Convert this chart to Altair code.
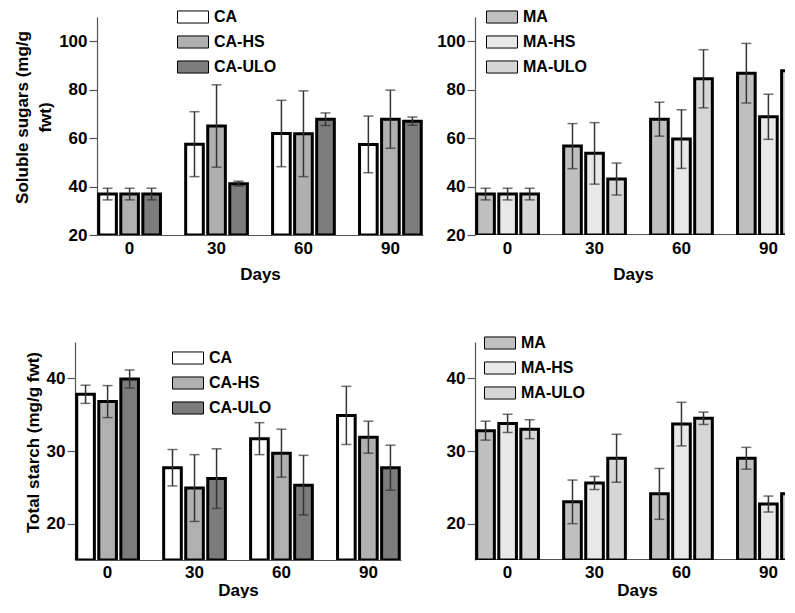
import altair as alt
import pandas as pd

days = ["0", "30", "60", "90"]
ca_groups = ["CA", "CA-HS", "CA-ULO"]
ma_groups = ["MA", "MA-HS", "MA-ULO"]
ca_colors = ["#ffffff", "#b0b0b0", "#7c7c7c"]
ma_colors = ["#c0c0c0", "#e8e8e8", "#d6d6d6"]

# Soluble sugars (mg/g fwt): means and errors, per group, days 0/30/60/90
sugar_ca_mean = {"CA": [36.9, 57.5, 61.9, 57.4], "CA-HS": [36.9, 65.0, 61.8, 67.8], "CA-ULO": [36.9, 41.2, 67.8, 67.0]}
sugar_ca_err = {"CA": [2.4, 13.4, 13.7, 11.7], "CA-HS": [2.4, 17.0, 17.7, 12.0], "CA-ULO": [2.4, 1.0, 2.6, 1.7]}
sugar_ma_mean = {"MA": [36.9, 56.7, 67.8, 86.8], "MA-HS": [36.9, 53.7, 59.6, 68.8], "MA-ULO": [36.9, 43.1, 84.5, 87.8]}
sugar_ma_err = {"MA": [2.4, 9.3, 7.0, 12.3], "MA-HS": [2.4, 12.7, 12.1, 9.3], "MA-ULO": [2.4, 6.6, 12.0, 12.5]}

# Total starch (mg/g fwt)
starch_ca_mean = {"CA": [37.8, 27.7, 31.7, 34.9], "CA-HS": [36.8, 24.9, 29.7, 31.9], "CA-ULO": [39.9, 26.2, 25.3, 27.7]}
starch_ca_err = {"CA": [1.25, 2.5, 2.2, 4.0], "CA-HS": [2.2, 4.6, 3.3, 2.2], "CA-ULO": [1.25, 4.1, 4.1, 3.1]}
starch_ma_mean = {"MA": [32.8, 23.0, 24.1, 29.0], "MA-HS": [33.8, 25.6, 33.7, 22.7], "MA-ULO": [33.0, 29.0, 34.5, 24.1]}
starch_ma_err = {"MA": [1.3, 3.0, 3.5, 1.5], "MA-HS": [1.25, 0.9, 3.0, 1.1], "MA-ULO": [1.3, 3.3, 0.85, 3.3]}

FONT = "Liberation Sans"
ERR = "#333333"
AXC = "#555555"
RECT = "M-1,-0.39H1V0.39H-1Z"
BAND = 326
RIGHT_W = 313


def make_df(groups, means, errs):
    rows = []
    for g in groups:
        for d, m, e in zip(days, means[g], errs[g]):
            rows.append({"day": d, "group": g, "mean": m, "lo": m - e, "hi": m + e})
    return pd.DataFrame(rows)


def panel(df, groups, colors, ydomain, yvals, ytitle, lx, ly, width, height,
          shift=0, xdomain=True, tline=None, ty=None, xlabpad=5, xtitlepad=10, daysx=None):
    xaxis_kw = dict(title="Days", labelAngle=0, ticks=False, domain=xdomain,
                    domainColor=AXC, domainWidth=1.2, labelPadding=xlabpad, titlePadding=xtitlepad)
    if daysx is not None:
        xaxis_kw["titleX"] = daysx
    xenc = alt.X("day:N", sort=days,
                 scale=alt.Scale(paddingInner=0.29, paddingOuter=0.02, range=[shift, shift + BAND]),
                 axis=alt.Axis(**xaxis_kw))
    xo = alt.XOffset("group:N", sort=groups, scale=alt.Scale(paddingInner=0.2, paddingOuter=0))
    yaxis_kw = dict(values=yvals, grid=False, domain=True, ticks=True, tickSize=8,
                    domainColor=AXC, tickColor=AXC, domainWidth=1.2, tickWidth=1.2,
                    labelPadding=2, titlePadding=4)
    if shift:
        yaxis_kw["offset"] = -shift
    if ytitle is None:
        yaxis_kw["title"] = None
    else:
        yaxis_kw["title"] = ytitle
        if tline is not None:
            yaxis_kw["titleLineHeight"] = tline
        if ty is not None:
            yaxis_kw["titleY"] = ty
    yax = alt.Axis(**yaxis_kw)
    ysc = alt.Scale(domain=ydomain, nice=False, zero=False)
    layers = []
    if not xdomain:
        layers.append(alt.Chart(df).mark_rule(color=AXC, strokeWidth=1.2, clip=True).encode(
            y=alt.Y(datum=ydomain[0], scale=ysc, axis=yax)))
    bars = alt.Chart(df).mark_bar(stroke="black", strokeWidth=3, clip=True).encode(
        x=xenc, xOffset=xo,
        y=alt.Y("mean:Q", scale=ysc, axis=yax),
        y2=alt.datum(ydomain[0]),
        fill=alt.Fill("group:N", sort=groups, scale=alt.Scale(domain=groups, range=colors),
                      legend=alt.Legend(title=None, orient="none", legendX=lx, legendY=ly,
                                        symbolType=RECT, symbolSize=961,
                                        symbolStrokeColor="black", symbolStrokeWidth=1,
                                        labelFont=FONT, labelFontSize=16, labelFontWeight="bold",
                                        labelColor="black", labelOffset=5, rowPadding=0,
                                        padding=0, symbolOpacity=1)),
    )
    rules = alt.Chart(df).mark_rule(color=ERR, strokeWidth=1.5, clip=True).encode(
        x=xenc, xOffset=xo, y=alt.Y("lo:Q", scale=ysc, axis=yax), y2="hi:Q")
    lo = alt.Chart(df).mark_tick(color=ERR, size=10, thickness=1.5, clip=True).encode(
        x=xenc, xOffset=xo, y=alt.Y("lo:Q", scale=ysc, axis=yax))
    hi = alt.Chart(df).mark_tick(color=ERR, size=10, thickness=1.5, clip=True).encode(
        x=xenc, xOffset=xo, y=alt.Y("hi:Q", scale=ysc, axis=yax))
    layers += [bars, rules, lo, hi]
    return alt.layer(*layers).properties(width=width, height=height)


tl = panel(make_df(ca_groups, sugar_ca_mean, sugar_ca_err), ca_groups, ca_colors,
           [20, 110], [20, 40, 60, 80, 100], ["Soluble sugars (mg/g", "fwt)"], 102, -16,
           BAND + 22, 218, shift=22, tline=23, ty=100)
bl = panel(make_df(ca_groups, starch_ca_mean, starch_ca_err), ca_groups, ca_colors,
           [15, 45], [20, 30, 40], "Total starch (mg/g fwt)", 97, 0, BAND, 218,
           ty=100, xlabpad=4, xtitlepad=2)
tr = panel(make_df(ma_groups, sugar_ma_mean, sugar_ma_err), ma_groups, ma_colors,
           [20, 110], [20, 40, 60, 80, 100], None, 11, -16, RIGHT_W, 218,
           xdomain=False, daysx=158)
br = panel(make_df(ma_groups, starch_ma_mean, starch_ma_err), ma_groups, ma_colors,
           [15, 45], [20, 30, 40], None, 9, -15, RIGHT_W, 218,
           xdomain=False, xlabpad=4, xtitlepad=2, daysx=162)

RES = dict(x="independent", y="independent", fill="independent", xOffset="independent")
left_col = alt.vconcat(tl, bl, spacing=107, bounds="flush").resolve_scale(**RES)
right_col = alt.vconcat(tr, br, spacing=107, bounds="flush").resolve_scale(**RES)

chart = alt.hconcat(left_col, right_col, spacing=13).resolve_scale(**RES).properties(
    padding={"left": 5, "top": -7, "right": -16, "bottom": 0}
).configure_view(stroke=None).configure_axis(
    labelFont=FONT, labelFontSize=17, labelFontWeight="bold", labelColor="black",
    titleFont=FONT, titleFontSize=17, titleFontWeight="bold", titleColor="black",
)

chart.save("out.html", embed_options={"renderer": "svg", "actions": False})
